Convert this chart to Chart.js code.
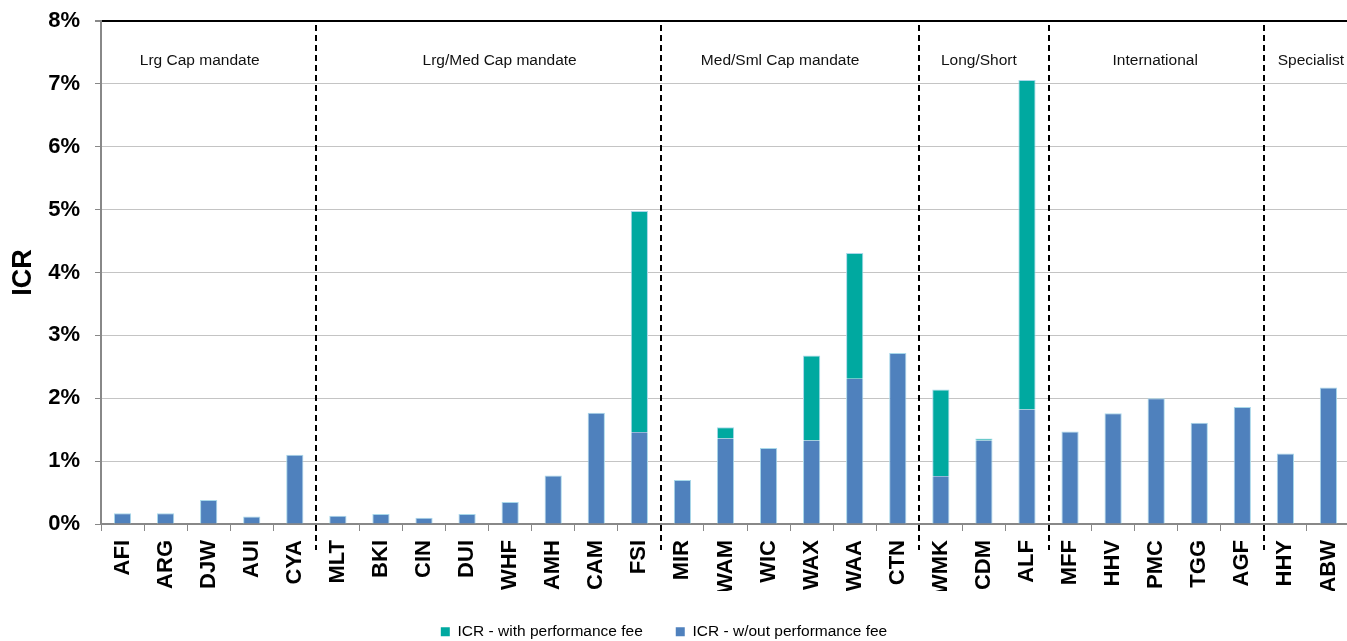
<!DOCTYPE html>
<html><head><meta charset="utf-8">
<script src="https://cdn.jsdelivr.net/npm/chart.js@4"></script>
<style>html,body{margin:0;padding:0;overflow:hidden;background:#fff}</style>
</head><body>
<canvas id="c" width="1351" height="641" style="display:block;width:1351px;height:641px"></canvas>
<script>
// ---- data ----
const categories = ['AFI','ARG','DJW','AUI','CYA','MLT','BKI','CIN','DUI','WHF','AMH','CAM','FSI','MIR','WAM','WIC','WAX','WAA','CTN','WMK','CDM','ALF','MFF','HHV','PMC','TGG','AGF','HHY','ABW'];
// ICR without performance fee (%)
const icrWithoutPerfFee = [0.17,0.17,0.38,0.12,1.10, 0.13,0.16,0.10,0.16,0.35,0.77,1.77,1.46, 0.70,1.36,1.21,1.33,2.31,2.72, 0.76,1.33,1.82, 1.47,1.76,2.00,1.61,1.86, 1.12,2.17];
// additional ICR from performance fee (%), stacked on top
const perfFeeComponent = [0,0,0,0,0, 0,0,0,0,0,0,0,3.52, 0,0.18,0,1.35,2.00,0, 1.38,0.03,5.24, 0,0,0,0,0, 0,0];
const groupNames = ['Lrg Cap mandate','Lrg/Med Cap mandate','Med/Sml Cap mandate','Long/Short','International','Specialist'];
const groupFirst = ['AFI','MLT','MIR','WMK','MFF','HHY'];
const groupLast  = ['CYA','FSI','CTN','ALF','AGF','ABW'];
const yTickValues = [0,1,2,3,4,5,6,7,8];
const seriesLabels = ['ICR - w/out performance fee','ICR - with performance fee'];

Chart.defaults.font.family = "'Liberation Sans', Arial, sans-serif";
Chart.defaults.color = '#000';

const groupPlugin = {
  id: 'groups',
  afterLayout(chart, args, opts) {
    if (chart.legend) { chart.legend.left -= opts.legendShift; chart.legend.right -= opts.legendShift; }
  },
  afterDatasetsDraw(chart, args, opts) {
    const {ctx, chartArea, scales: {x}} = chart;
    const half = (x.getPixelForValue(1) - x.getPixelForValue(0)) / 2;
    ctx.save();
    ctx.strokeStyle = '#000';
    ctx.lineWidth = 2;
    ctx.setLineDash([6, 4]);
    groupFirst.forEach((name, i) => {
      if (i === 0) return;
      const px = Math.round(x.getPixelForValue(categories.indexOf(name)) - half);
      ctx.beginPath();
      ctx.moveTo(px, chartArea.top + 4);
      ctx.lineTo(px, chartArea.bottom + 26);
      ctx.stroke();
    });
    ctx.setLineDash([]);
    ctx.font = "15.5px 'Liberation Sans', Arial, sans-serif";
    ctx.fillStyle = '#111';
    ctx.textAlign = 'center';
    ctx.textBaseline = 'middle';
    groupNames.forEach((n, i) => {
      const a = x.getPixelForValue(categories.indexOf(groupFirst[i])) - half;
      const b = x.getPixelForValue(categories.indexOf(groupLast[i])) + half;
      ctx.fillText(n, (a + b) / 2 + opts.nudge[i], chartArea.top + 40);
    });
    ctx.restore();
  }
};

const edge = '#a8d8ea';
new Chart(document.getElementById('c'), {
  type: 'bar',
  data: {
    labels: categories,
    datasets: [
      {
        label: seriesLabels[0],
        data: icrWithoutPerfFee,
        backgroundColor: '#4F81BD',
        borderColor: edge,
        borderWidth: c => ({top: perfFeeComponent[c.dataIndex] > 0 ? 0 : 1, left: 1, right: 1, bottom: 0}),
        borderSkipped: false,
        barPercentage: 0.4,
        categoryPercentage: 1
      },
      {
        label: seriesLabels[1],
        data: perfFeeComponent,
        backgroundColor: '#00A9A0',
        borderColor: edge,
        borderWidth: c => (perfFeeComponent[c.dataIndex] > 0 ? {top: 1, left: 1, right: 1, bottom: 0} : 0),
        borderSkipped: false,
        barPercentage: 0.4,
        categoryPercentage: 1
      }
    ]
  },
  options: {
    responsive: false,
    animation: false,
    layout: {padding: {top: 21, left: 0, right: 1, bottom: 0}},
    scales: {
      x: {
        stacked: true,
        afterFit: s => { s.height = 67; s.paddingLeft = 0; s.paddingRight = 0; },
        grid: {display: true, drawOnChartArea: false, drawTicks: true, tickLength: 7, tickColor: '#888', offset: true},
        border: {display: true, color: '#888', width: 2},
        ticks: {font: {size: 22, weight: 'bold'}, color: '#000', maxRotation: 90, minRotation: 90, autoSkip: false, padding: 9}
      },
      y: {
        stacked: true,
        min: 0, max: 8,
        afterFit: s => { s.width = 101; s.paddingTop = 0; s.paddingBottom = 0; },
        afterBuildTicks: s => { s.ticks = yTickValues.map(v => ({value: v})); },
        grid: {
          color: c => (c.tick && c.tick.value === 8 ? '#000' : '#c4c4c4'),
          lineWidth: c => (c.tick && c.tick.value === 8 ? 2 : 1),
          drawTicks: true, tickLength: 6, tickColor: '#888'
        },
        border: {display: true, color: '#888', width: 2},
        ticks: {font: {size: 22, weight: 'bold'}, color: '#000', padding: 15, callback: v => v + '%'},
        title: {display: true, text: 'ICR', font: {size: 27, weight: 'bold'}, color: '#000', padding: {top: 7, bottom: 0}}
      }
    },
    plugins: {
      tooltip: {enabled: false},
      groups: {nudge: [-9, 11, -10, -5, -1, 4], legendShift: 11},
      legend: {
        position: 'bottom',
        maxHeight: 50,
        labels: {
          font: {size: 15.5},
          color: '#111',
          boxWidth: 9, boxHeight: 9,
          padding: 33,
          sort: (a, b) => b.datasetIndex - a.datasetIndex,
          generateLabels: chart => chart.data.datasets.map((d, i) => ({
            text: d.label, fillStyle: d.backgroundColor, strokeStyle: d.backgroundColor, lineWidth: 0, datasetIndex: i, hidden: false
          }))
        }
      }
    }
  },
  plugins: [groupPlugin]
});
</script>
</body></html>
